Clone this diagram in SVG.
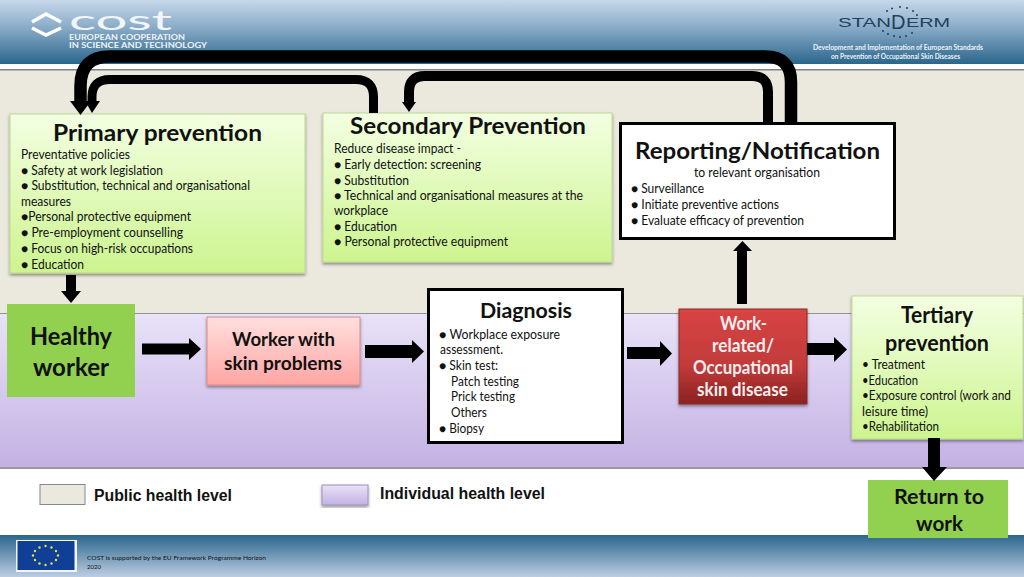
<svg xmlns="http://www.w3.org/2000/svg" width="1024" height="577" viewBox="0 0 1024 577">
<defs>
<linearGradient id="top" x1="0" y1="0" x2="0" y2="1"><stop offset="0" stop-color="#c8d8ea"/><stop offset="0.45" stop-color="#86a9c6"/><stop offset="1" stop-color="#2b668c"/></linearGradient>
<linearGradient id="bot" x1="0" y1="0" x2="0" y2="1"><stop offset="0" stop-color="#2b668c"/><stop offset="1" stop-color="#bccde2"/></linearGradient>
<linearGradient id="lav" x1="0" y1="0" x2="0" y2="1"><stop offset="0" stop-color="#e9e2f8"/><stop offset="1" stop-color="#c3b1e3"/></linearGradient>
<linearGradient id="grn" x1="0" y1="0" x2="0" y2="1"><stop offset="0" stop-color="#f3ffe2"/><stop offset="1" stop-color="#cdf48f"/></linearGradient>
<linearGradient id="pink" x1="0" y1="0" x2="0" y2="1"><stop offset="0" stop-color="#ffe0de"/><stop offset="1" stop-color="#ffa5a3"/></linearGradient>
<linearGradient id="red" x1="0" y1="0" x2="0" y2="1"><stop offset="0" stop-color="#d84444"/><stop offset="0.6" stop-color="#c23a3a"/><stop offset="1" stop-color="#8a2220"/></linearGradient>
<filter id="sh" x="-10%" y="-10%" width="120%" height="125%"><feDropShadow dx="0" dy="2" stdDeviation="1.5" flood-color="#000" flood-opacity="0.4"/></filter>
</defs>
<style>
text{font-family:"Lato","Carlito","Open Sans",sans-serif;fill:#111}
.b{font-size:12.4px}
.t{font-size:23px;font-weight:700;text-anchor:start}
.n{font-size:18.5px;font-weight:700}
.leg{font-family:"Liberation Sans",Arial,sans-serif;font-size:16px;font-weight:700}
.box{fill:url(#grn);stroke:#bcd98f;stroke-width:1;filter:url(#sh)}
.bk{fill:#fff;stroke:#000;stroke-width:3}
.c{fill:none;stroke:#000;stroke-linejoin:round}
</style>

<g id="background">
<rect x="0" y="0" width="1024" height="64" fill="url(#top)"/>
<rect x="0" y="64" width="1024" height="5" fill="#fff"/>
<rect x="0" y="69" width="1024" height="245" fill="#ebe9de"/>
<rect x="0" y="69" width="1024" height="1.5" fill="#7d8288"/>
<rect x="0" y="314" width="1024" height="153" fill="url(#lav)"/>
<rect x="0" y="313" width="1024" height="1" fill="#8f939a"/>
<rect x="0" y="467" width="1024" height="2" fill="#9a9a9e"/>
<rect x="0" y="469" width="1024" height="66" fill="#fff"/>
<rect x="0" y="535" width="1024" height="42" fill="url(#bot)"/>
</g>

<g id="cost-logo">
<path d="M32 22 L46 14 L61 22 M32 28 L46 35 L61 28" fill="none" stroke="#fff" stroke-width="3.500"/>
<text x="69" y="30" font-size="26" style="fill:#f2f6fa;font-weight:400" textLength="103" lengthAdjust="spacingAndGlyphs">cost</text>
<text x="69" y="40" font-size="6.500" style="fill:#eef3f8;font-weight:700" textLength="116" lengthAdjust="spacingAndGlyphs">EUROPEAN COOPERATION</text>
<text x="69" y="48" font-size="6.500" style="fill:#eef3f8;font-weight:700" textLength="138" lengthAdjust="spacingAndGlyphs">IN SCIENCE AND TECHNOLOGY</text>
</g>

<g id="standerm-logo">
<g fill="#23405f"><circle cx="887" cy="11" r="1"/><circle cx="892" cy="8.500" r="1"/><circle cx="900" cy="7" r="1"/><circle cx="907" cy="8" r="1"/><circle cx="913" cy="11" r="1"/><circle cx="917" cy="15" r="1"/><circle cx="883" cy="31" r="1"/><circle cx="888" cy="34" r="1"/><circle cx="894" cy="36" r="1"/><circle cx="900" cy="37" r="1"/><circle cx="906" cy="36" r="1"/><circle cx="912" cy="33" r="1"/></g>
<text x="838" y="27" font-size="13" style="fill:#23405f;font-family:'Liberation Sans',sans-serif" textLength="53" lengthAdjust="spacingAndGlyphs">STAN</text>
<text x="891" y="29" font-size="20" style="fill:#23405f;font-family:'Liberation Sans',sans-serif">D</text>
<text x="906" y="27" font-size="13" style="fill:#23405f;font-family:'Liberation Sans',sans-serif" textLength="44" lengthAdjust="spacingAndGlyphs">ERM</text>
<text x="813" y="50" font-size="6.500" style="fill:#eef3f8;font-weight:700" textLength="170" lengthAdjust="spacingAndGlyphs">Development and Implementation of European Standards</text>
<text x="831" y="59" font-size="6.500" style="fill:#eef3f8;font-weight:700" textLength="129" lengthAdjust="spacingAndGlyphs">on Prevention of Occupational Skin Diseases</text>
</g>

<g id="primary-prevention">
<rect class="box" x="10" y="114" width="295" height="159"/>
<text class="t" x="53" y="141" textLength="209" lengthAdjust="spacingAndGlyphs">Primary prevention</text>
<text class="b" x="21" y="159" textLength="109" lengthAdjust="spacingAndGlyphs">Preventative policies</text>
<text class="b" x="21" y="175" textLength="142" lengthAdjust="spacingAndGlyphs">● Safety at work legislation</text>
<text class="b" x="21" y="190" textLength="229" lengthAdjust="spacingAndGlyphs">● Substitution, technical and organisational</text>
<text class="b" x="21" y="206" textLength="50" lengthAdjust="spacingAndGlyphs">measures</text>
<text class="b" x="21" y="221" textLength="170" lengthAdjust="spacingAndGlyphs">●Personal protective equipment</text>
<text class="b" x="21" y="237" textLength="162" lengthAdjust="spacingAndGlyphs">● Pre-employment counselling</text>
<text class="b" x="21" y="253" textLength="172" lengthAdjust="spacingAndGlyphs">● Focus on high-risk occupations</text>
<text class="b" x="21" y="269" textLength="63" lengthAdjust="spacingAndGlyphs">● Education</text>
</g>

<g id="secondary-prevention">
<rect class="box" x="323" y="113" width="289" height="149"/>
<text class="t" x="350" y="134" textLength="236" lengthAdjust="spacingAndGlyphs">Secondary Prevention</text>
<text class="b" x="334" y="153" textLength="127" lengthAdjust="spacingAndGlyphs">Reduce disease impact -</text>
<text class="b" x="334" y="169" textLength="147" lengthAdjust="spacingAndGlyphs">● Early detection: screening</text>
<text class="b" x="334" y="185" textLength="75" lengthAdjust="spacingAndGlyphs">● Substitution</text>
<text class="b" x="334" y="200" textLength="249" lengthAdjust="spacingAndGlyphs">● Technical and organisational measures at the</text>
<text class="b" x="334" y="215" textLength="54" lengthAdjust="spacingAndGlyphs">workplace</text>
<text class="b" x="334" y="231" textLength="63" lengthAdjust="spacingAndGlyphs">● Education</text>
<text class="b" x="334" y="246" textLength="174" lengthAdjust="spacingAndGlyphs">● Personal protective equipment</text>
</g>

<g id="reporting-notification">
<rect class="bk" x="620.500" y="123.500" width="274" height="115"/>
<text class="t" x="635" y="159" textLength="245" lengthAdjust="spacingAndGlyphs">Reporting/Notification</text>
<text class="b" x="694" y="177" textLength="126" lengthAdjust="spacingAndGlyphs">to relevant organisation</text>
<text class="b" x="631" y="193" textLength="73" lengthAdjust="spacingAndGlyphs">● Surveillance</text>
<text class="b" x="631" y="209" textLength="148" lengthAdjust="spacingAndGlyphs">● Initiate preventive actions</text>
<text class="b" x="631" y="225" textLength="173" lengthAdjust="spacingAndGlyphs">● Evaluate efficacy of prevention</text>
</g>

<g id="healthy-worker">
<rect x="7" y="304" width="128" height="93" fill="#92d050"/>
<text x="30" y="345" font-size="24" font-weight="700" textLength="82" lengthAdjust="spacingAndGlyphs">Healthy</text>
<text x="33" y="376" font-size="24" font-weight="700" textLength="76" lengthAdjust="spacingAndGlyphs">worker</text>
</g>

<g id="worker-skin-problems">
<rect x="207" y="317" width="153" height="68" fill="url(#pink)" stroke="#d98a88" filter="url(#sh)"/>
<text class="n" x="232" y="346" textLength="103" lengthAdjust="spacingAndGlyphs">Worker with</text>
<text class="n" x="224" y="370" textLength="118" lengthAdjust="spacingAndGlyphs">skin problems</text>
</g>

<g id="diagnosis">
<rect class="bk" x="428.500" y="289.500" width="194" height="153"/>
<text x="480" y="318" font-size="21" font-weight="700" textLength="92" lengthAdjust="spacingAndGlyphs">Diagnosis</text>
<text class="b" x="439" y="339" textLength="121" lengthAdjust="spacingAndGlyphs">● Workplace exposure</text>
<text class="b" x="440" y="354" textLength="63" lengthAdjust="spacingAndGlyphs">assessment.</text>
<text class="b" x="439" y="370" textLength="59" lengthAdjust="spacingAndGlyphs">● Skin test:</text>
<text class="b" x="451" y="386" textLength="68" lengthAdjust="spacingAndGlyphs">Patch testing</text>
<text class="b" x="451" y="401" textLength="64" lengthAdjust="spacingAndGlyphs">Prick testing</text>
<text class="b" x="451" y="417" textLength="36" lengthAdjust="spacingAndGlyphs">Others</text>
<text class="b" x="439" y="433" textLength="45" lengthAdjust="spacingAndGlyphs">● Biopsy</text>
</g>

<g id="occupational-disease">
<rect x="679" y="309" width="128" height="95" fill="url(#red)" stroke="#8a2a28" filter="url(#sh)"/>
<text class="n" x="720" y="330" textLength="47" lengthAdjust="spacingAndGlyphs" style="fill:#f6eeee">Work-</text>
<text class="n" x="712" y="352" textLength="62" lengthAdjust="spacingAndGlyphs" style="fill:#f6eeee">related/</text>
<text class="n" x="693" y="374" textLength="100" lengthAdjust="spacingAndGlyphs" style="fill:#f6eeee">Occupational</text>
<text class="n" x="697" y="396" textLength="91" lengthAdjust="spacingAndGlyphs" style="fill:#f6eeee">skin disease</text>
</g>

<g id="tertiary-prevention">
<rect class="box" x="852" y="296" width="171" height="143"/>
<text class="t" x="901" y="323" textLength="72" lengthAdjust="spacingAndGlyphs">Tertiary</text>
<text class="t" x="885" y="351" textLength="104" lengthAdjust="spacingAndGlyphs">prevention</text>
<text class="b" x="862" y="369" textLength="63" lengthAdjust="spacingAndGlyphs">• Treatment</text>
<text class="b" x="862" y="385" textLength="56" lengthAdjust="spacingAndGlyphs">•Education</text>
<text class="b" x="862" y="400" textLength="149" lengthAdjust="spacingAndGlyphs">•Exposure control (work and</text>
<text class="b" x="862" y="416" textLength="66" lengthAdjust="spacingAndGlyphs">leisure time)</text>
<text class="b" x="862" y="431" textLength="77" lengthAdjust="spacingAndGlyphs">•Rehabilitation</text>
</g>

<g id="return-to-work">
<rect x="868" y="480" width="140" height="58" fill="#92d050"/>
<text x="894" y="504" font-size="20.500" font-weight="700" textLength="90" lengthAdjust="spacingAndGlyphs">Return to</text>
<text x="916" y="531" font-size="20.500" font-weight="700" textLength="47" lengthAdjust="spacingAndGlyphs">work</text>
</g>

<g id="legend-public">
<rect x="40" y="484.500" width="45" height="20" fill="#ebe9de" stroke="#7f8a96" stroke-width="1"/>
<text class="leg" x="94" y="501" textLength="138" lengthAdjust="spacingAndGlyphs">Public health level</text>
</g>
<g id="legend-individual">
<rect x="322" y="485" width="46" height="20" fill="url(#lav)" stroke="#9d90b8" filter="url(#sh)"/>
<text class="leg" x="380" y="499" textLength="165" lengthAdjust="spacingAndGlyphs">Individual health level</text>
</g>

<g id="eu-flag">
<rect x="16" y="540" width="61" height="32" fill="#f2f6fa"/>
<rect x="17.500" y="541" width="57" height="29" fill="#0f3f96"/>
<g fill="#e8e23a"><circle cx="45.500" cy="546" r="1.200"/><circle cx="51.500" cy="547.500" r="1.200"/><circle cx="56" cy="551" r="1.200"/><circle cx="58" cy="555.500" r="1.200"/><circle cx="56" cy="560" r="1.200"/><circle cx="51.500" cy="563.500" r="1.200"/><circle cx="45.500" cy="565" r="1.200"/><circle cx="39.500" cy="563.500" r="1.200"/><circle cx="35" cy="560" r="1.200"/><circle cx="33" cy="555.500" r="1.200"/><circle cx="35" cy="551" r="1.200"/><circle cx="39.500" cy="547.500" r="1.200"/></g>
</g>
<g id="footer-text">
<text x="87" y="560" font-size="6" textLength="179" lengthAdjust="spacingAndGlyphs">COST is supported by the EU Framework Programme Horizon</text>
<text x="87" y="569" font-size="6" textLength="14" lengthAdjust="spacingAndGlyphs">2020</text>
</g>

<g id="connectors">
<path class="c" stroke-width="12.500" d="M791 123 V82 Q791 56.500 765 56.500 H110 Q80.500 56.500 80.500 86 V102"/>
<polygon points="70,101 91,101 80.500,115"/>
<path class="c" stroke-width="9" d="M373.500 113 V97 Q373.500 79.500 356 79.500 H110 Q92 79.500 92 97 V102"/>
<polygon points="85,101 100,101 92,113"/>
<path class="c" stroke-width="10" d="M768 122 V92 Q768 76 752 76 H425 Q409 76 409 92 V103"/>
<polygon points="402,102 416,102 409,112"/>
<polygon points="66,275 76,275 76,291 81,291 71,303 61,291 66,291"/>
<polygon points="142,343.500 189,343.500 189,338 201,349 189,360 189,354.500 142,354.500"/>
<polygon points="365,345 412,345 412,340 424,351.500 412,363 412,358 365,358"/>
<polygon points="627,347 660,347 660,341 672,353.500 660,366 660,359 627,359"/>
<polygon points="807,343 834,343 834,337 847,349.500 834,362 834,355 807,355"/>
<polygon points="737,304 737,251 733,251 742.500,241 752,251 747,251 747,304"/>
<polygon points="928,438 940,438 940,467 947,467 934,481 922,467 928,467"/>
</g>
</svg>
